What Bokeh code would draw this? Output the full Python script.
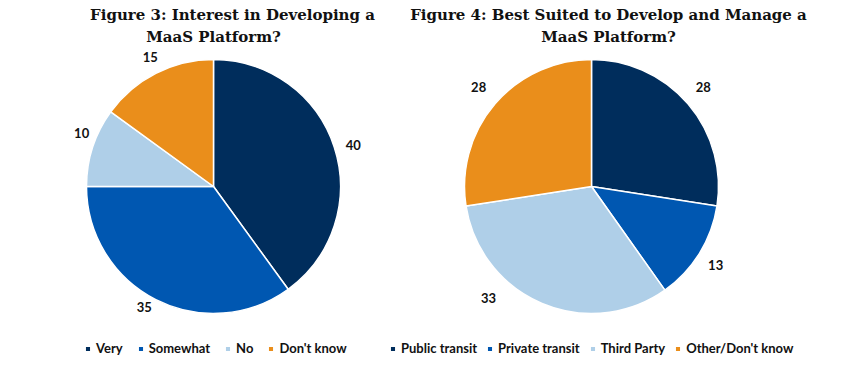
import numpy as np
from bokeh.plotting import figure
from bokeh.models import ColumnDataSource, Range1d, Legend, LegendItem
from bokeh.core.properties import value
from bokeh.embed import file_html
from bokeh.resources import INLINE

# ---- data ----
fig3_title = ["Figure 3: Interest in Developing a", "MaaS Platform?"]
fig3_categories = ["Very", "Somewhat", "No", "Don't know"]
fig3_values = [40, 35, 10, 15]

fig4_title = ["Figure 4: Best Suited to Develop and Manage a", "MaaS Platform?"]
fig4_categories = ["Public transit", "Private transit", "Third Party", "Other/Don't know"]
fig4_values = [28, 13, 33, 28]

colors = ["#002d5c", "#0057b1", "#afcfe8", "#ea8e1b"]

# ---- layout constants (pixel-like data space: x right, y up) ----
W, H = 847, 372
p = figure(width=W, height=H, output_backend="svg", toolbar_location=None,
           x_range=Range1d(0, W), y_range=Range1d(380 - H, 380),
           min_border=0, outline_line_color=None)
p.xaxis.visible = False
p.yaxis.visible = False
p.grid.visible = False

NUM_FONT = "Lato"

# label nudges (pixels, x right / y up) for the outside value labels
fig3_nudge = [(1, -4), (-3, 10), (7, 8), (3, -1)]
fig4_nudge = [(1, 5), (0, -2), (-46, 23), (-2, 5)]


def pie(cx, cy, r, cats, vals, title_lines, title_x, legend_loc, spacing, nudge):
    vals = np.array(vals, dtype=float)
    frac = vals / vals.sum()
    cum = np.cumsum(frac)
    prev = cum - frac
    start = np.pi / 2 - prev * 2 * np.pi
    end = np.pi / 2 - cum * 2 * np.pi
    mid = (start + end) / 2
    lr = r + 19
    nd = np.array(nudge, dtype=float)
    src = ColumnDataSource(dict(
        cat=cats, val=[str(int(v)) for v in vals], start=start, end=end,
        color=colors,
        lx=cx + lr * np.cos(mid) + nd[:, 0],
        ly=cy + lr * np.sin(mid) + nd[:, 1]))
    w = p.wedge(x=cx, y=cy, radius=r, start_angle="start", end_angle="end",
                direction="clock", fill_color="color", line_color="white",
                line_width=1.5, source=src)
    p.text(x="lx", y="ly", text="val", source=src, text_align="center",
           text_baseline="middle", text_font=value(NUM_FONT), text_font_style="bold",
           text_font_size="13px", text_color="#111111")
    tsrc = ColumnDataSource(dict(x=title_x, y=[366, 344], t=title_lines))
    p.text(x="x", y="y", text="t", source=tsrc, text_align="center",
           text_baseline="middle", text_font=value("DejaVu Serif"),
           text_font_style="bold", text_font_size="15px", text_color="#111111")
    items = [LegendItem(label=c, renderers=[w], index=i) for i, c in enumerate(cats)]
    leg = Legend(items=items, orientation="horizontal", location=legend_loc,
                 glyph_width=7, glyph_height=7, label_standoff=5, spacing=spacing,
                 padding=0, margin=0, border_line_color=None,
                 background_fill_alpha=0, label_text_font=NUM_FONT,
                 label_text_font_style="bold",
                 label_text_font_size="13px", label_text_color="#111111",
                 label_height=14, label_width=10)
    p.add_layout(leg)


pie(213, 194, 127, fig3_categories, fig3_values, fig3_title, [232, 213], (84, 16), 14, fig3_nudge)
pie(591, 194, 127, fig4_categories, fig4_values, fig4_title, [608, 608], (389, 16), 9, fig4_nudge)

open("out.html", "w").write(file_html(p, INLINE))
